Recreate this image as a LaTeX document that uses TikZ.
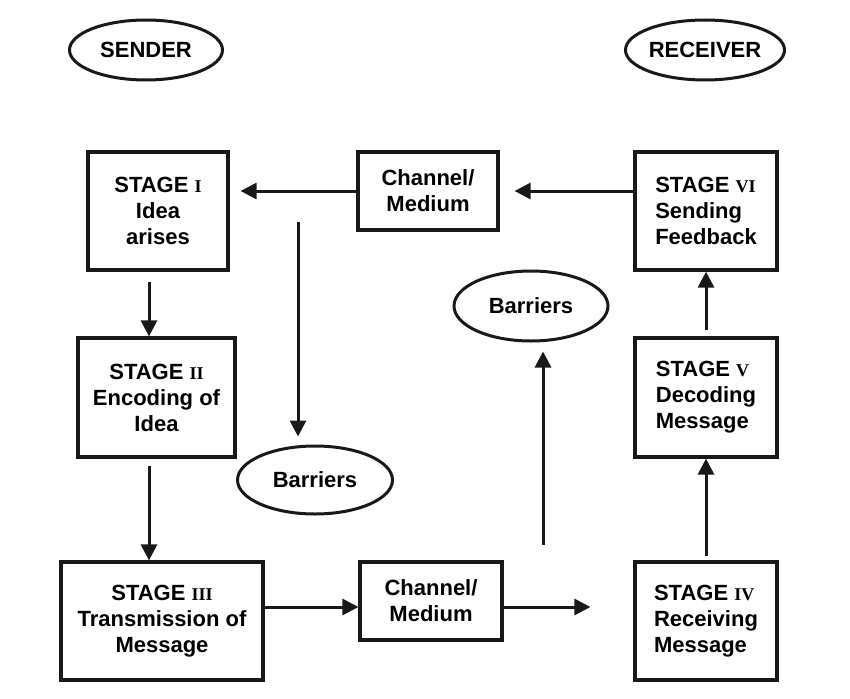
\documentclass[tikz,border=0pt]{standalone}
\usepackage{fontspec}
\setmainfont{Liberation Sans}
\newfontfamily\romfont{Liberation Serif}
\usetikzlibrary{shapes.geometric,arrows.meta,calc}
\newcommand{\rnum}[1]{{\romfont\bfseries\fontsize{18}{20}\selectfont #1}}
\begin{document}
\begin{tikzpicture}[x=1pt,y=-1pt,
  txt/.style={font=\bfseries\fontsize{22}{26}\selectfont, text=black},
  box/.style={txt, draw=black!90, line width=3.2pt, rectangle, inner sep=0pt},
  oval/.style={txt, draw=black!90, line width=3pt, ellipse, inner sep=0pt},
  arr/.style={draw=black!90, line width=3pt, -{Triangle[length=16pt,width=16pt]}}]
\useasboundingbox (0,0) rectangle (850,698);
\fill[white] (0,0) rectangle (850,698);
% ellipses
\node[oval, minimum width=153pt, minimum height=60pt] (sender) at (146,50) {SENDER};
\node[oval, minimum width=152pt, minimum height=60pt] (receiver) at (705,50) {RECEIVER};
\node[oval, minimum width=154pt, minimum height=70pt] (barR) at (531,306) {Barriers};
\node[oval, minimum width=155pt, minimum height=68pt] (barL) at (315,480) {Barriers};
% boxes
\node[box, minimum width=140pt, minimum height=118pt, align=center] (s1) at (158,211) {STAGE \rnum{I}\\Idea\\arises};
\node[box, minimum width=140pt, minimum height=78pt, align=center] (chtop) at (428,191) {Channel/\\Medium};
\node[box, minimum width=142pt, minimum height=118pt, align=left] (s6) at (706,211) {STAGE \rnum{VI}\\Sending\\Feedback};
\node[box, minimum width=157pt, minimum height=119pt, align=center] (s2) at (156.5,397.5) {STAGE \rnum{II}\\Encoding of\\Idea};
\node[box, minimum width=142pt, minimum height=119pt, align=left] (s5) at (706,397.5) {STAGE \rnum{V}\\Decoding\\Message};
\node[box, minimum width=202pt, minimum height=118pt, align=center] (s3) at (162,621) {STAGE \rnum{III}\\Transmission of\\Message};
\node[box, minimum width=142pt, minimum height=78pt, align=center] (chbot) at (431,601) {Channel/\\Medium};
\node[box, minimum width=142pt, minimum height=118pt, align=left] (s4) at (706,621) {STAGE \rnum{IV}\\Receiving\\Message};
% free ends
\coordinate (c1) at (298,222);
\coordinate (c2) at (543,545);
% connectors
\draw[arr, shorten >=11pt] (chtop.west) -- (s1.east |- chtop.west);
\draw[arr, shorten >=15pt] (s6.west |- chtop.east) -- (chtop.east);
\draw[arr, shorten >=8pt] (c1) -- (c1 |- barL.north);
\draw[arr, shorten >=9pt] (c2) -- (c2 |- barR.south);
\draw[arr, shorten <=10pt] ($(s1.south)+(-9,0)$) -- ($(s2.north)+(-7.5,0)$);
\draw[arr, shorten <=7pt] ($(s2.south)+(-7.5,0)$) -- ($(s3.north)+(-13,0)$);
\draw[arr] ($(s3.east)+(0,-14)$) -- ($(chbot.west)+(0,6)$);
\draw[arr, shorten >=43pt] ($(chbot.east)+(0,6)$) -- ($(s4.west)+(0,-14)$);
\draw[arr, shorten <=4pt] (s4.north) -- (s5.south);
\draw[arr, shorten <=6pt] (s5.north) -- (s6.south);
\end{tikzpicture}
\end{document}
